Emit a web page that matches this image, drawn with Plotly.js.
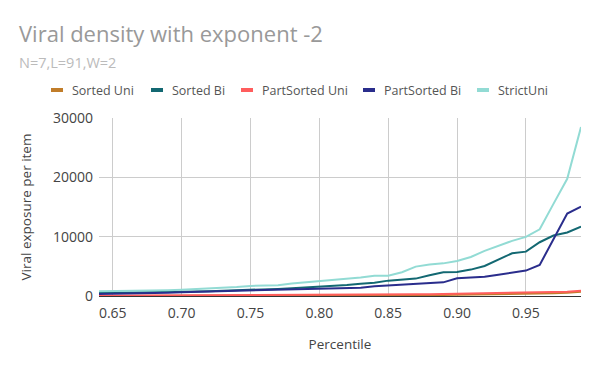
<!DOCTYPE html>
<html>
<head>
<meta charset="utf-8">
<script src="https://cdn.plot.ly/plotly-3.0.1.min.js"></script>
<style>
  html, body { margin: 0; padding: 0; background: #fff; }
  #chart { width: 600px; height: 371px; }
</style>
</head>
<body>
<div id="chart"></div>
<script>
var percentile = [0.64,0.65,0.66,0.67,0.68,0.69,0.70,0.71,0.72,0.73,0.74,0.75,0.76,0.77,0.78,0.79,
                  0.80,0.81,0.82,0.83,0.84,0.85,0.86,0.87,0.88,0.89,0.90,0.91,0.92,0.93,0.94,0.95,
                  0.96,0.97,0.98,0.99];

var sortedUni = [20,22,25,28,30,33,36,40,44,48,52,56,60,65,70,75,
                 80,88,95,105,115,125,140,155,170,185,200,220,245,270,300,330,
                 380,450,560,720];
var sortedBi = [500,520,550,580,610,650,700,760,820,880,940,1050,1120,1200,1320,1450,
                1575,1690,1860,2080,2250,2590,2700,2930,3490,4000,4050,4450,5060,6190,7200,7480,
                9060,10190,10700,11700];
var partSortedUni = [60,65,70,75,80,85,90,95,100,110,115,120,130,140,150,160,
                     170,185,200,215,230,250,270,290,310,340,370,400,430,460,490,520,
                     560,620,720,880];
var partSortedBi = [350,380,420,460,500,560,650,700,760,820,880,950,1000,1050,1100,1150,
                    1180,1240,1240,1400,1630,1745,1910,2030,2190,2300,2980,3150,3260,3600,4000,4280,
                    5230,9450,13900,15080];
var strictUni = [800,820,850,880,920,980,1060,1150,1250,1380,1500,1700,1750,1830,2100,2300,
                 2530,2700,2870,3100,3430,3430,4000,4950,5290,5500,5900,6580,7600,8500,9290,9960,
                 11250,15530,19750,28480];

var names = ['Sorted Uni','Sorted Bi','PartSorted Uni','PartSorted Bi','StrictUni'];
var series = [sortedUni, sortedBi, partSortedUni, partSortedBi, strictUni];
var xTicks = [0.65,0.70,0.75,0.80,0.85,0.90,0.95];
var yTicks = [0,10000,20000,30000];

var COLORS = ['#c17d2a','#136872','#ff5d5d','#2a2d8c','#92dbd4'];

// plot box in pixels, used to place the hand-made legend and titles
var M = {l: 99, r: 19, t: 118, b: 75};
var PW = 600 - M.l - M.r, PH = 371 - M.t - M.b;
function px(x) { return (x - M.l) / PW; }
function py(y) { return (371 - M.b - y) / PH; }

var LEGEND_X = [51, 151, 241, 363, 477];
var LEGEND_Y = 90;

var traces = series.map(function(s, i) {
  return {
    x: percentile, y: s, type: 'scatter', mode: 'lines', name: names[i],
    line: {color: COLORS[i], width: 2}
  };
});

var shapes = [], annotations = [];
names.forEach(function(n, i) {
  shapes.push({type: 'rect', xref: 'paper', yref: 'paper',
    x0: px(LEGEND_X[i]), x1: px(LEGEND_X[i] + 12),
    y0: py(LEGEND_Y + 2), y1: py(LEGEND_Y - 2),
    fillcolor: COLORS[i], line: {width: 0}});
  annotations.push({text: n, xref: 'paper', yref: 'paper',
    x: px(LEGEND_X[i] + 19), y: py(LEGEND_Y), xanchor: 'left', yanchor: 'middle',
    showarrow: false, font: {size: 12.5, color: '#555'}});
});

annotations.push({text: 'Viral density with exponent -2', xref: 'paper', yref: 'paper',
  x: px(17), y: py(33), xanchor: 'left', yanchor: 'middle', showarrow: false,
  font: {size: 22, color: '#999'}});
annotations.push({text: 'N=7,L=91,W=2', xref: 'paper', yref: 'paper',
  x: px(17), y: py(62.5), xanchor: 'left', yanchor: 'middle', showarrow: false,
  font: {size: 14.5, color: '#bbb'}});

var layout = {
  width: 600, height: 371,
  margin: M,
  font: {family: 'Open Sans, sans-serif', size: 13.5, color: '#444'},
  paper_bgcolor: '#fff', plot_bgcolor: '#fff',
  showlegend: false,
  xaxis: {
    range: [0.64, 0.99], tickvals: xTicks,
    ticktext: xTicks.map(function(v){ return v.toFixed(2); }),
    tickfont: {size: 14},
    showgrid: true, gridcolor: '#cccccc', zeroline: false, showline: false,
    ticks: '', ticklabelstandoff: 7, automargin: false,
    title: {text: 'Percentile', font: {size: 13.5, color: '#444'}, standoff: 18}
  },
  yaxis: {
    range: [0, 30000], tickvals: yTicks,
    ticktext: yTicks.map(String),
    tickfont: {size: 14},
    showgrid: true, gridcolor: '#cccccc', zeroline: true, zerolinecolor: '#333', zerolinewidth: 1,
    showline: false, ticks: '', ticklabelstandoff: 5, automargin: false,
    title: {text: 'Viral exposure per item', font: {size: 13.5, color: '#444'}, standoff: 18}
  },
  shapes: shapes,
  annotations: annotations
};

Plotly.newPlot('chart', traces, layout, {displayModeBar: false, staticPlot: true});
</script>
</body>
</html>
